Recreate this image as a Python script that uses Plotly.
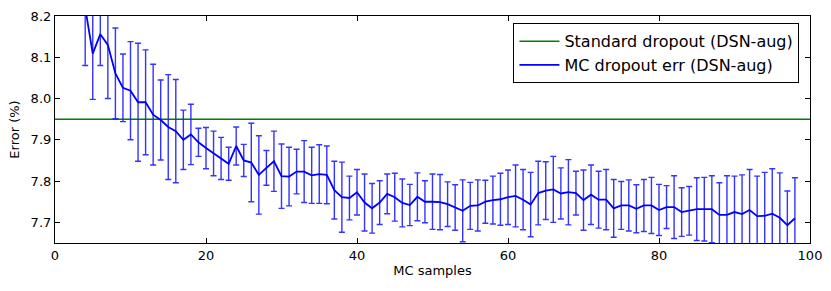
import plotly.graph_objects as go

mc_samples = list(range(4, 99))
mc_err_mean = [
    8.220, 8.109, 8.156, 8.130, 8.061, 8.026, 8.019, 7.991, 7.991, 7.961,
    7.948, 7.931, 7.921, 7.900, 7.913, 7.894, 7.880, 7.867, 7.855, 7.842,
    7.885, 7.850, 7.845, 7.815, 7.832, 7.848, 7.812, 7.811, 7.823, 7.823,
    7.814, 7.817, 7.815, 7.778, 7.761, 7.759, 7.773, 7.748, 7.734, 7.748,
    7.769, 7.761, 7.747, 7.742, 7.762, 7.750, 7.750, 7.749, 7.744, 7.736,
    7.728, 7.740, 7.741, 7.750, 7.754, 7.756, 7.761, 7.764, 7.755, 7.743,
    7.771, 7.777, 7.780, 7.770, 7.773, 7.771, 7.754, 7.767, 7.755, 7.755,
    7.734, 7.741, 7.741, 7.733, 7.741, 7.741, 7.730, 7.737, 7.737, 7.725,
    7.728, 7.732, 7.732, 7.732, 7.718, 7.718, 7.725, 7.720, 7.730, 7.715,
    7.716, 7.721, 7.711, 7.693, 7.710,
]
mc_err_std = [
    0.140, 0.111, 0.076, 0.130, 0.110, 0.082, 0.119, 0.143, 0.127, 0.122,
    0.097, 0.127, 0.125, 0.072, 0.073, 0.034, 0.050, 0.054, 0.051, 0.040,
    0.046, 0.039, 0.095, 0.095, 0.042, 0.073, 0.078, 0.071, 0.054, 0.075,
    0.068, 0.071, 0.070, 0.070, 0.085, 0.053, 0.055, 0.069, 0.060, 0.053,
    0.048, 0.058, 0.058, 0.050, 0.058, 0.051, 0.067, 0.067, 0.054, 0.055,
    0.075, 0.057, 0.062, 0.052, 0.058, 0.063, 0.066, 0.075, 0.073, 0.078,
    0.077, 0.070, 0.080, 0.062, 0.079, 0.053, 0.073, 0.072, 0.069, 0.073,
    0.070, 0.058, 0.062, 0.058, 0.063, 0.068, 0.062, 0.052, 0.076, 0.059,
    0.059, 0.076, 0.077, 0.081, 0.078, 0.095, 0.087, 0.095, 0.098, 0.097,
    0.105, 0.109, 0.109, 0.083, 0.098,
]
standard_dropout_err = 7.95
x_extent = [0, 100]

x_ticks = [0, 20, 40, 60, 80, 100]
y_ticks = [7.7, 7.8, 7.9, 8.0, 8.1, 8.2]

font = "DejaVu Sans, Liberation Sans, sans-serif"

fig = go.Figure()
fig.add_trace(go.Scatter(
    x=x_extent, y=[standard_dropout_err] * len(x_extent),
    mode="lines", name="Standard dropout (DSN-aug)",
    line=dict(color="#008000", width=1.5),
))
fig.add_trace(go.Scatter(
    x=mc_samples, y=mc_err_mean,
    mode="lines", name="MC dropout err (DSN-aug)",
    line=dict(color="#0000ff", width=1.8),
    error_y=dict(type="data", array=mc_err_std, visible=True,
                 color="rgba(30,30,255,0.9)", thickness=1.4, width=3),
))

axis_common = dict(
    showgrid=False, zeroline=False, showline=True, linecolor="black",
    linewidth=1.2, mirror="ticks", ticks="inside", ticklen=5,
    tickcolor="black", tickfont=dict(family=font, size=13, color="black"),
    automargin=False,
)
fig.update_xaxes(range=[0, 100], tickvals=x_ticks,
                 ticktext=[str(v) for v in x_ticks],
                 title=dict(text="MC samples", font=dict(family=font, size=13, color="black"), standoff=4),
                 **axis_common)
fig.update_yaxes(range=[7.65, 8.2], tickvals=y_ticks,
                 ticktext=[f"{v:.1f}" for v in y_ticks],
                 title=dict(text="Error (%)", font=dict(family=font, size=13, color="black"), standoff=8),
                 **axis_common)

fig.update_layout(
    width=831, height=291,
    margin=dict(l=55, r=21, t=16, b=48, autoexpand=False),
    paper_bgcolor="white", plot_bgcolor="white",
    font=dict(family=font, size=13, color="black"),
    showlegend=True,
    legend=dict(x=0.986, y=0.968, xanchor="right", yanchor="top",
                bordercolor="black", borderwidth=1, bgcolor="white",
                font=dict(family=font, size=16, color="black"),
                itemwidth=40, tracegroupgap=0),
)

fig.write_html(
    "out.html",
    config={"displayModeBar": False},
    post_script="document.body.style.margin='0';document.body.style.overflow='hidden';",
)
